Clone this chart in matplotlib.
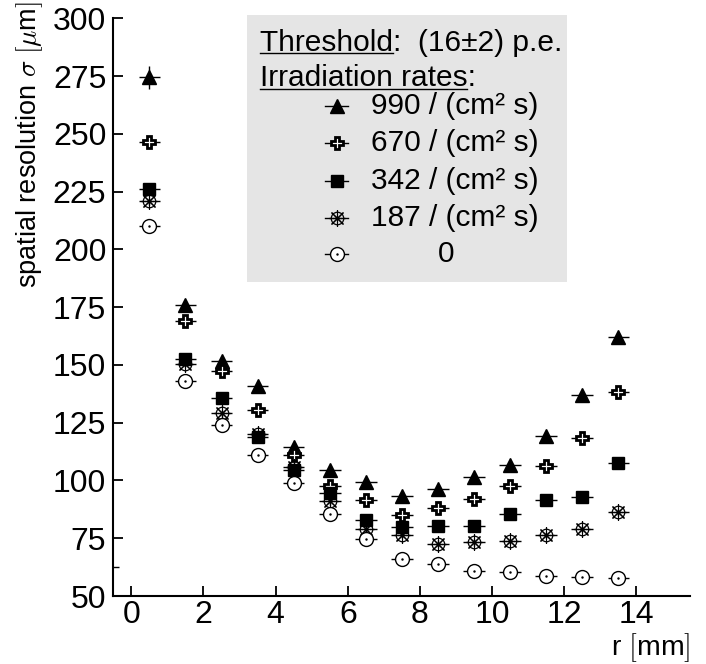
import matplotlib
matplotlib.use("Agg")
import matplotlib.pyplot as plt
from matplotlib.patches import Rectangle
from matplotlib.ticker import MultipleLocator, FixedLocator

plt.rcParams['font.family'] = ['Liberation Sans', 'DejaVu Sans']
plt.rcParams['mathtext.fontset'] = 'cm'

# radius bin centres [mm]
r = [0.5, 1.5, 2.5, 3.5, 4.5, 5.5, 6.5, 7.5, 8.5, 9.5, 10.5, 11.5, 12.5, 13.5]

# spatial resolution [um] per irradiation rate
res_990 = [274.5, 176, 151.5, 141, 114.5, 104.4, 99.2, 93.1, 96.3, 101.3, 106.6, 119.4, 136.8, 162]
res_670 = [246.5, 169, 147.2, 130.6, 111, 97.4, 91.7, 85.2, 88.3, 92, 97.4, 106.4, 118.2, 138.4]
res_342 = [226.3, 152.5, 135.6, 119, 104.5, 94.5, 83, 80, 80.4, 80.4, 85.6, 91.4, 93, 107.5]
res_187 = [220.8, 150.5, 129.1, 120, 106, 90.9, 79, 76.5, 72.6, 73.2, 73.8, 76.4, 79, 86.3]
res_0 = [210.2, 143, 124.1, 111, 98.8, 85.5, 74.6, 66, 64, 60.9, 60.3, 58.6, 58.2, 57.9]

err_990 = [5, 1.5, 1.5, 1.5, 1.5, 1.5, 1.5, 1.5, 1.5, 1.5, 1.5, 1.5, 1.5, 1.5]

legend_labels = ['990 / (cm² s)', '670 / (cm² s)', '342 / (cm² s)', '187 / (cm² s)', '0']

STYLES = {
    'tri': [dict(marker='^', mfc='black', mec='black', ms=10)],
    'cross': [dict(marker='P', mfc='white', mec='black', ms=8.5, mew=2.0)],
    'sq': [dict(marker='s', mfc='black', mec='black', ms=9)],
    'star': [dict(marker='o', mfc='none', mec='black', ms=9, mew=0.9),
             dict(marker=(8, 2, 0), mfc='none', mec='black', ms=12, mew=0.8)],
    'circ': [dict(marker='o', mfc='white', mec='black', ms=10, mew=1.0),
             dict(marker='.', mfc='black', mec='black', ms=1.5)],
}


def draw_series(ax, x, y, kind, yerr=None):
    ax.errorbar(x, y, xerr=0.3, yerr=yerr, fmt='none', ecolor='black',
                elinewidth=1.0, capsize=0, zorder=2)
    for st in STYLES[kind]:
        ax.plot(x, y, linestyle='none', zorder=3, **st)


def draw_key(ax, x, y, kind):
    ax.plot([x - 0.02, x + 0.02], [y, y], color='black', lw=1.0,
            transform=ax.transAxes, clip_on=False, zorder=5)
    for st in STYLES[kind]:
        ax.plot([x], [y], linestyle='none', transform=ax.transAxes,
                clip_on=False, zorder=6, **st)


fig = plt.figure(figsize=(7.06, 6.64), dpi=100)
ax = fig.add_axes([0.1605, 0.1024, 0.8175, 0.870])

draw_series(ax, r, res_990, 'tri', yerr=err_990)
draw_series(ax, r, res_670, 'cross', yerr=1.5)
draw_series(ax, r, res_342, 'sq', yerr=1.5)
draw_series(ax, r, res_187, 'star', yerr=1.5)
draw_series(ax, r, res_0, 'circ', yerr=1.0)

ax.set_xlim(-0.5, 15.5)
ax.set_ylim(50, 300)
ax.xaxis.set_major_locator(MultipleLocator(2))
ax.yaxis.set_major_locator(MultipleLocator(25))
ax.yaxis.set_minor_locator(FixedLocator([62.5]))
ax.tick_params(which='major', direction='in', length=7.5, width=1.3,
               labelsize=23, pad=5)
ax.tick_params(which='minor', direction='in', length=4, width=1.0)
ax.tick_params(axis='x', pad=3)
for side in ['top', 'right']:
    ax.spines[side].set_visible(False)
for side in ['left', 'bottom']:
    ax.spines[side].set_linewidth(1.5)

fig.text(0.978, 0.0, r'r $[$mm$]$', ha='right', va='bottom', fontsize=20.5)
fig.text(0.042, 0.998, r'spatial resolution $\sigma$ $[\mu$m$]$', rotation=90,
         ha='center', va='top', fontsize=19.5)

# legend box
ax.add_patch(Rectangle((0.2316, 0.5435), 0.5545, 0.462, transform=ax.transAxes,
                       facecolor='#e5e5e5', edgecolor='none', clip_on=False, zorder=4))
ax.text(0.254, 0.958, 'Threshold:  (16±2) p.e.', transform=ax.transAxes,
        fontsize=21.5, va='center', ha='left', zorder=5)
ax.plot([0.254, 0.484], [0.940, 0.940], color='black', lw=1.0,
        transform=ax.transAxes, clip_on=False, zorder=5)
ax.text(0.254, 0.897, 'Irradiation rates:', transform=ax.transAxes,
        fontsize=21.5, va='center', ha='left', zorder=5)
ax.plot([0.254, 0.612], [0.878, 0.878], color='black', lw=1.0,
        transform=ax.transAxes, clip_on=False, zorder=5)

kinds = ['tri', 'cross', 'sq', 'star', 'circ']
key_y = [0.848, 0.785, 0.719, 0.655, 0.592]
for kind, lab, yy in zip(kinds, legend_labels, key_y):
    draw_key(ax, 0.387, yy, kind)
    if lab == '0':
        ax.text(0.577, yy, lab, transform=ax.transAxes, fontsize=21.5,
                va='center', ha='center', zorder=5)
    else:
        ax.text(0.447, yy, lab, transform=ax.transAxes, fontsize=21.5,
                va='center', ha='left', zorder=5)

fig.savefig('out.png', dpi=100)
plt.close(fig)
